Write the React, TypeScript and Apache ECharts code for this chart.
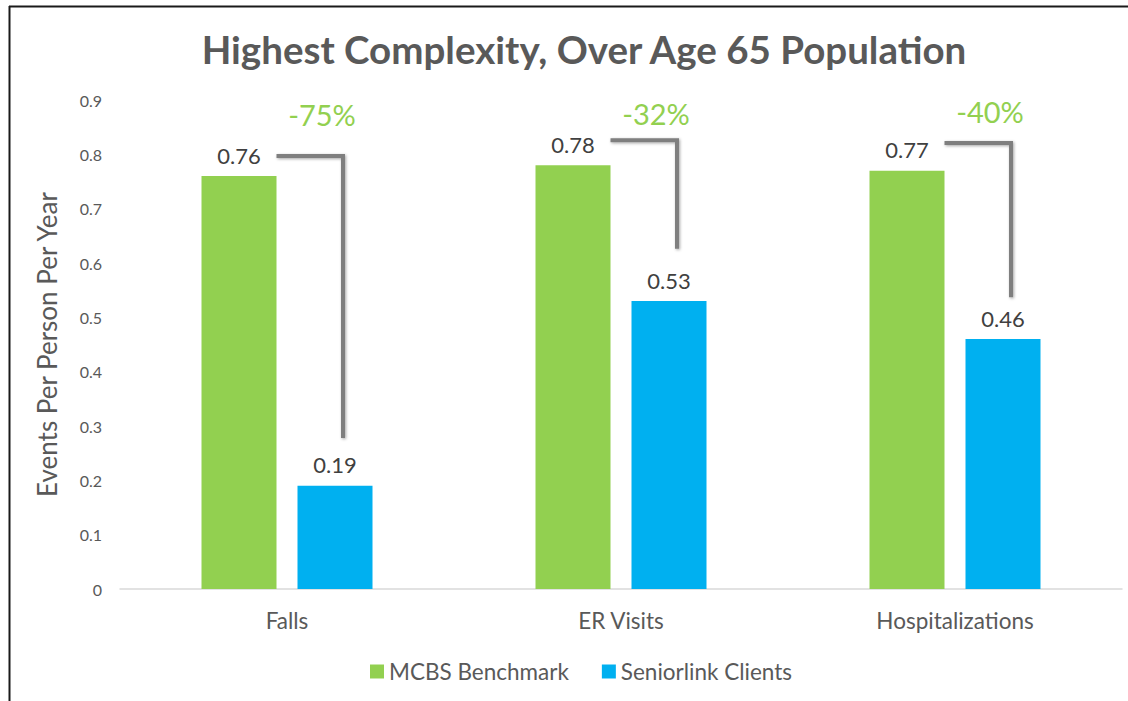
import React, { useEffect, useRef } from "react";
import * as echarts from "echarts";

const categories = ["Falls", "ER Visits", "Hospitalizations"];
const benchmark = [0.76, 0.78, 0.77];
const clients = [0.19, 0.53, 0.46];
const changeLabels = ["-75%", "-32%", "-40%"];
const connectorTop = [0.797, 0.826, 0.821];
const connectorBottom = [0.278, 0.626, 0.537];
const changeLabelY = [0.874, 0.876, 0.878];
const yTicks = [0, 0.1, 0.2, 0.3, 0.4, 0.5, 0.6, 0.7, 0.8, 0.9];

const GREEN = "#92d050";
const BLUE = "#00b0f0";
const FONT = "Lato, 'Open Sans', sans-serif";

export default function App() {
  const ref = useRef<HTMLDivElement>(null);
  useEffect(() => {
    if (!ref.current) return;
    const chart = echarts.init(ref.current, null, { renderer: "svg" });
    const barLabel = {
      show: true,
      position: "top",
      distance: 10,
      color: "#404040",
      fontSize: 22,
      fontFamily: FONT,
    };
    chart.setOption({
      animation: false,
      backgroundColor: "#ffffff",
      textStyle: { fontFamily: FONT },
      title: {
        text: "Highest Complexity, Over Age 65 Population",
        left: 579,
        textAlign: "center",
        top: 24,
        textStyle: { fontSize: 38.5, fontWeight: "bold", color: "#595959", fontFamily: FONT },
      },
      legend: {
        left: 365,
        top: 655,
        itemWidth: 14,
        itemHeight: 14,
        itemGap: 33,
        icon: "rect",
        textStyle: { fontSize: 22.5, color: "#595959", fontFamily: FONT },
        data: ["MCBS Benchmark", "Seniorlink Clients"],
      },
      grid: { left: 120, right: 6, top: 100, bottom: 112, containLabel: false },
      xAxis: {
        type: "category",
        data: categories,
        axisLine: { lineStyle: { color: "#d9d9d9", width: 1.5 } },
        axisTick: { show: false },
        axisLabel: { fontSize: 22.5, color: "#595959", margin: 20, fontFamily: FONT },
      },
      yAxis: {
        type: "value",
        min: 0,
        max: 0.9,
        interval: 0.1,
        name: "Events Per Person Per Year",
        nameLocation: "middle",
        nameGap: 60,
        nameTextStyle: { fontSize: 26, color: "#595959", fontFamily: FONT },
        splitLine: { show: false },
        axisLine: { show: false },
        axisTick: { show: false },
        axisLabel: {
          fontSize: 16,
          color: "#595959",
          margin: 18,
          fontFamily: FONT,
          formatter: (v: number) => {
            const t = yTicks.find((x) => Math.abs(x - v) < 1e-6);
            return t === 0 ? "0" : String(Number((t ?? v).toFixed(1)));
          },
        },
      },
      series: [
        {
          name: "MCBS Benchmark",
          type: "bar",
          data: benchmark,
          barWidth: 75,
          barGap: "28%",
          itemStyle: { color: GREEN },
          label: barLabel,
        },
        {
          name: "Seniorlink Clients",
          type: "bar",
          data: clients,
          barWidth: 75,
          itemStyle: { color: BLUE },
          label: barLabel,
        },
      ],
    });

    const graphics: any[] = [
      { type: "line", shape: { x1: 9, y1: 6.5, x2: 1128, y2: 6.5 }, style: { stroke: "#1a1a1a", lineWidth: 2 } },
      { type: "line", shape: { x1: 9.5, y1: 6, x2: 9.5, y2: 701 }, style: { stroke: "#1a1a1a", lineWidth: 2 } },
    ];
    categories.forEach((_, i) => {
      const top = chart.convertToPixel({ xAxisIndex: 0, yAxisIndex: 0 }, [i, connectorTop[i]]) as number[];
      const bottom = chart.convertToPixel({ xAxisIndex: 0, yAxisIndex: 0 }, [i, connectorBottom[i]]) as number[];
      const lab = chart.convertToPixel({ xAxisIndex: 0, yAxisIndex: 0 }, [i, changeLabelY[i]]) as number[];
      const cx = top[0];
      const start = cx - 10.5;
      const corner = cx + 56;
      graphics.push({
        type: "polyline",
        shape: { points: [[start, top[1]], [corner, top[1]], [corner, bottom[1]]] },
        style: {
          stroke: "#7f7f7f",
          lineWidth: 4,
          fill: null,
          shadowBlur: 3,
          shadowColor: "rgba(0,0,0,0.35)",
          shadowOffsetX: 1,
          shadowOffsetY: 1,
        },
      });
      graphics.push({
        type: "text",
        x: corner - 21,
        y: lab[1],
        style: {
          text: changeLabels[i],
          fill: GREEN,
          fontSize: 29,
          fontFamily: FONT,
          align: "center",
          verticalAlign: "middle",
        },
      });
    });
    chart.setOption({ graphic: graphics });
    return () => chart.dispose();
  }, []);
  return (
    <div
      ref={ref}
      style={{ position: "fixed", left: 0, top: 0, width: 1128, height: 701 }}
    />
  );
}
